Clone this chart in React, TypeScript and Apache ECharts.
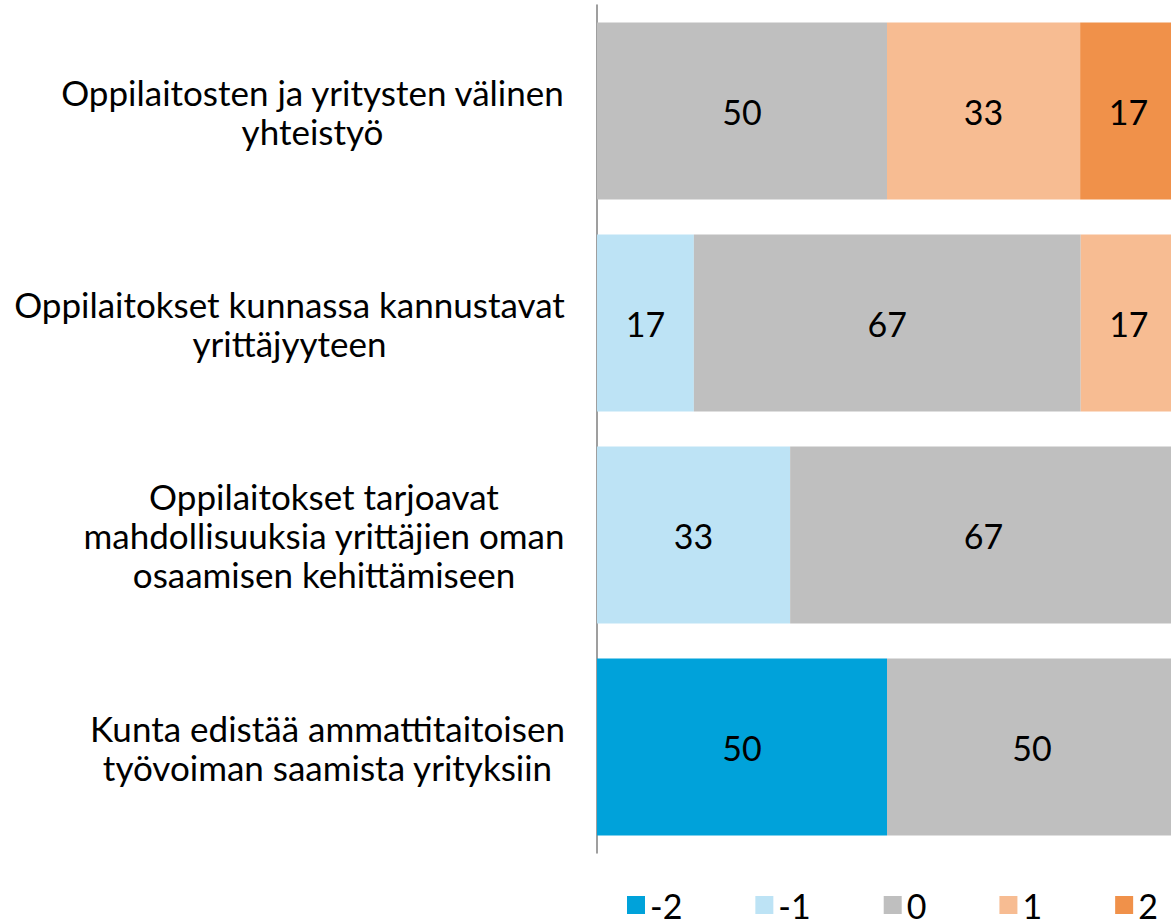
import React, { useEffect, useRef } from "react";
import * as echarts from "echarts";

const categories = [
  "Oppilaitosten ja yritysten välinen\nyhteistyö",
  "Oppilaitokset kunnassa kannustavat\nyrittäjyyteen",
  "Oppilaitokset tarjoavat\nmahdollisuuksia yrittäjien oman\nosaamisen kehittämiseen",
  "Kunta edistää ammattitaitoisen\ntyövoiman saamista yrityksiin",
];
const seriesNames = ["-2", "-1", "0", "1", "2"];
const valuesM2 = [0, 0, 0, 50];
const valuesM1 = [0, 16.7, 33.3, 0];
const values0 = [50, 66.7, 66.7, 50];
const valuesP1 = [33.3, 16.7, 0, 0];
const valuesP2 = [16.7, 0, 0, 0];
const colors = ["#00A2DA", "#BDE3F5", "#BFBFBF", "#F7BC92", "#F0914A"];

const FONT = "Lato";
const CAT_SIZE = 35;
const VAL_SIZE = 34;

function measure(text: string, size: number): number {
  const c = document.createElement("canvas").getContext("2d");
  if (!c) return text.length * size * 0.5;
  c.font = `${size}px ${FONT}`;
  return c.measureText(text).width;
}

export default function App() {
  const ref = useRef<HTMLDivElement>(null);
  useEffect(() => {
    if (!ref.current) return;
    const chart = echarts.init(ref.current, undefined, { renderer: "svg" });
    const all = [valuesM2, valuesM1, values0, valuesP1, valuesP2];
    const rich: Record<string, any> = {};
    categories.forEach((c, i) => {
      const w = Math.max(...c.split("\n").map((l) => measure(l, CAT_SIZE)));
      rich["c" + i] = {
        width: Math.ceil(w) + 2,
        align: "center",
        fontFamily: FONT,
        fontSize: CAT_SIZE,
        lineHeight: 39,
        color: "#000",
      };
    });
    chart.setOption({
      animation: false,
      color: colors,
      grid: { left: 597, right: 0, top: 5, bottom: 69, containLabel: false },
      legend: {
        bottom: 0,
        left: 627,
        padding: 0,
        itemWidth: 18,
        itemHeight: 18,
        itemGap: 73,
        icon: "rect",
        textStyle: {
          fontFamily: FONT,
          fontSize: VAL_SIZE,
          lineHeight: 24,
          color: "#000",
          padding: [0, 0, 0, 0],
        },
        data: seriesNames,
      },
      xAxis: {
        type: "value",
        min: 0,
        max: 100,
        show: false,
      },
      yAxis: {
        type: "category",
        inverse: true,
        data: categories,
        axisLine: { show: true, lineStyle: { color: "#7F7F7F", width: 1.5 } },
        axisTick: { show: false },
        axisLabel: {
          margin: 31,
          align: "right",
          formatter: (v: string, idx: number) =>
            v
              .split("\n")
              .map((l) => `{c${idx}|${l}}`)
              .join("\n"),
          rich,
        },
      },
      series: seriesNames.map((n, i) => ({
        name: n,
        type: "bar",
        stack: "total",
        barCategoryGap: "16.5%",
        data: all[i].map((v) => (v === 0 ? null : v)),
        label: {
          show: true,
          position: "inside",
          fontFamily: FONT,
          fontSize: VAL_SIZE,
          color: "#000",
          formatter: (p: any) => String(Math.round(p.value)),
        },
      })),
    });
    return () => chart.dispose();
  }, []);
  return (
    <div
      style={{
        position: "absolute",
        left: 0,
        top: 0,
        width: 1171,
        height: 922,
        overflow: "hidden",
        background: "#fff",
      }}
    >
      <div ref={ref} style={{ width: 1177, height: 922 }} />
    </div>
  );
}
